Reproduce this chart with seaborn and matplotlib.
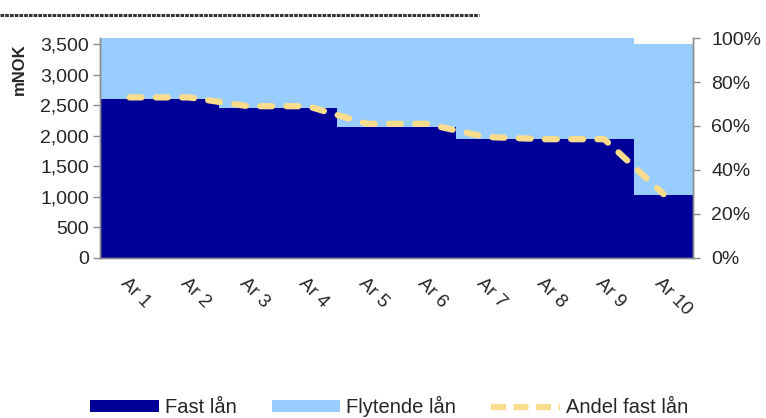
import numpy as np
import pandas as pd
import matplotlib.pyplot as plt
import seaborn as sns
from matplotlib.patches import Patch
from matplotlib.lines import Line2D
from matplotlib.ticker import FuncFormatter, PercentFormatter

years = ['Ar 1', 'Ar 2', 'Ar 3', 'Ar 4', 'Ar 5', 'Ar 6', 'Ar 7', 'Ar 8', 'Ar 9', 'Ar 10']
fast_laan = [2600, 2600, 2450, 2450, 2150, 2150, 1950, 1950, 1950, 1025]
flytende_laan = [1000, 1000, 1150, 1150, 1450, 1450, 1650, 1650, 1650, 2475]
andel_fast = [0.73, 0.73, 0.69, 0.69, 0.61, 0.61, 0.55, 0.54, 0.54, 0.29]

dark = '#000099'
light = '#99CCFF'
yellow = '#F9DD8C'
grey = '#8C8C8C'

sns.set_style('white')
plt.rcParams['font.family'] = ['Liberation Sans', 'DejaVu Sans']

df = pd.DataFrame({'year': years, 'fast': fast_laan, 'flyt': flytende_laan, 'andel': andel_fast})
df['total'] = df['fast'] + df['flyt']
df['pos'] = np.arange(len(df))

fig = plt.figure(figsize=(7.66, 4.18), dpi=100)
ax = fig.add_axes([0.1305, 0.383, 0.7745, 0.526])

# stacked bars: light total behind, dark fixed part in front
sns.barplot(x='year', y='total', data=df, color=light, width=1.0, saturation=1, ax=ax, linewidth=0)
sns.barplot(x='year', y='fast', data=df, color=dark, width=1.0, saturation=1, ax=ax, linewidth=0)

ax.set_xlim(-0.5, 9.5)
ax.set_ylim(0, 3600)
ax.set_yticks(range(0, 3501, 500))
ax.yaxis.set_major_formatter(FuncFormatter(lambda v, p: f'{int(v):,}'))
ax.set_xlabel('')
ax.set_ylabel('mNOK', fontsize=12, fontweight='bold')
ax.yaxis.set_label_coords(-0.124, 0.86)

ax.set_xticks(np.arange(-0.5, 10, 1), minor=True)
ax.set_xticks(df['pos'])
ax.set_xticklabels(years, rotation=-45, ha='left', va='top', rotation_mode='anchor', fontsize=13.5)
ax.tick_params(axis='x', which='major', length=0, pad=12)
ax.tick_params(axis='x', which='minor', length=5, width=1, color=grey, direction='out')
ax.tick_params(axis='y', length=5, width=1, color=grey, direction='out', labelsize=14, pad=3, left=True)

ax2 = ax.twinx()
sns.lineplot(x='pos', y='andel', data=df, ax=ax2, color=yellow, lw=4.5, legend=False)
ax2.lines[0].set_dashes((1.9, 2.3))
ax2.lines[0].set_dash_capstyle('round')
ax2.set_ylim(0, 1)
ax2.set_xlim(-0.5, 9.5)
ax2.set_yticks(np.arange(0, 1.01, 0.2))
ax2.yaxis.set_major_formatter(PercentFormatter(1.0, decimals=0))
ax2.set_ylabel('')
ax2.tick_params(axis='y', length=5, width=1, color=grey, direction='out', labelsize=14, pad=8, right=True)

for a in (ax, ax2):
    a.spines['top'].set_visible(False)
    for s in ('left', 'right', 'bottom'):
        a.spines[s].set_color(grey)
        a.spines[s].set_linewidth(1)

fig.add_artist(Line2D([0.0, 0.625], [0.964, 0.964], transform=fig.transFigure,
                      color='#333333', lw=2.2, dashes=(1.2, 0.35)))

legend_line = Line2D([], [], color=yellow, lw=4.5, label='Andel fast lån')
legend_line.set_dashes((2.4, 1.2))
legend_line.set_dash_capstyle('butt')
handles = [Patch(facecolor=dark, edgecolor='none', label='Fast lån'),
           Patch(facecolor=light, edgecolor='none', label='Flytende lån'),
           legend_line]
fig.legend(handles=handles, loc='center', bbox_to_anchor=(0.508, 0.027), ncol=3, frameon=False,
           fontsize=14.5, handlelength=3.4, handleheight=0.55, handletextpad=0.3, columnspacing=1.75,
           borderpad=0.1)

plt.savefig('out.png', dpi=100)
